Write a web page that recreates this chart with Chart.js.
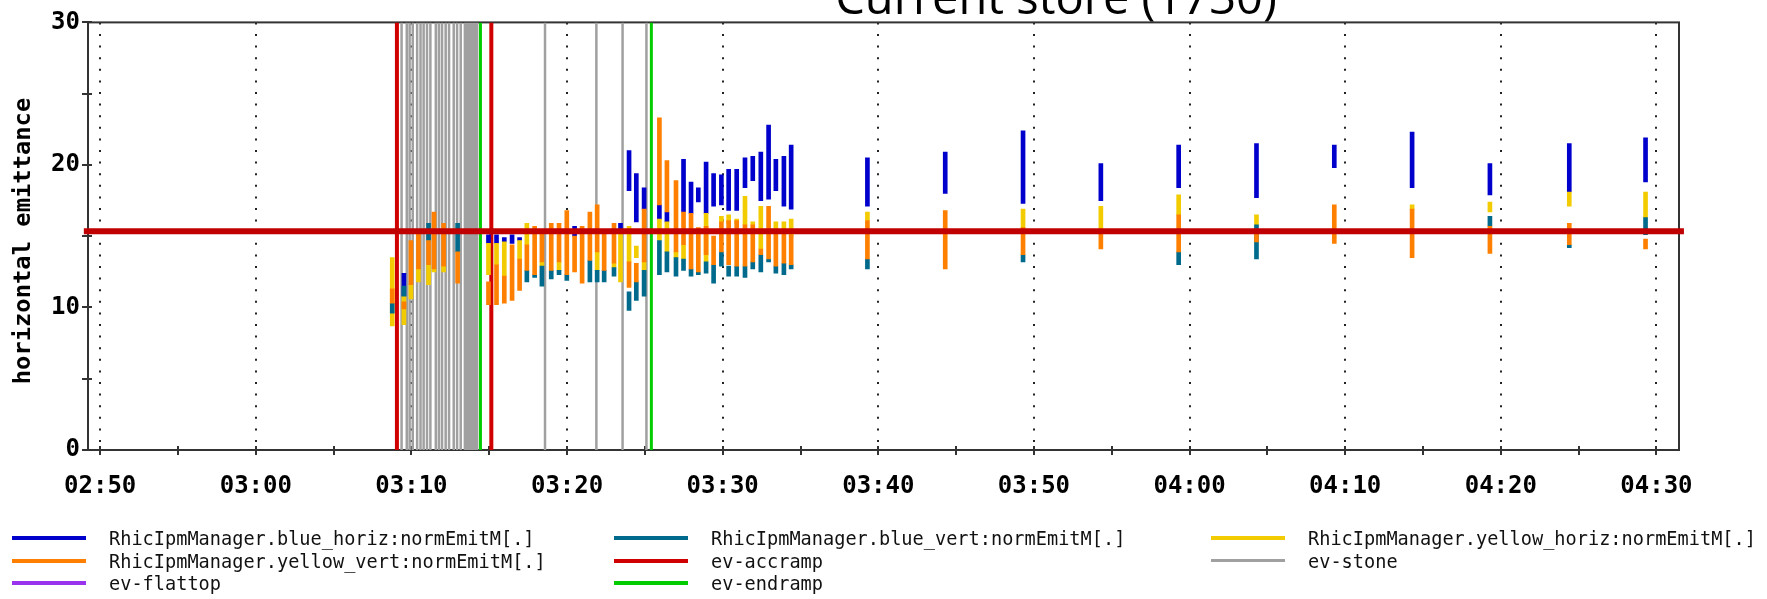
<!DOCTYPE html>
<html>
<head>
<meta charset="utf-8">
<title>horizontal emittance</title>
<script src="https://cdn.jsdelivr.net/npm/chart.js@4.4.0/dist/chart.umd.min.js"></script>
<style>
  body { margin: 0; background: #fff; }
  #wrap { position: relative; width: 1767px; height: 599px; overflow: hidden; }
  #emitChart { position: absolute; left: 0; top: 0; }
  .item { position: absolute; height: 22px; display: flex; align-items: center; white-space: nowrap; }
  .swatch { width: 74px; height: 4px; margin-right: 23px; }
  .label {
    font-family: "DejaVu Sans Mono", monospace; font-size: 20px; color: #111;
    transform: scaleX(0.93); transform-origin: left center;
  }
</style>
</head>
<body>
<div id="wrap">
  <canvas id="emitChart" width="1767" height="599"></canvas>
  <div id="legend"></div>
</div>
<script>
// IPM samples (hh:mm:ss); each series holds a [min, max] range or null
const sampleTimes = [
  '03:08:46', '03:09:31', '03:09:58', '03:10:27', '03:11:06', '03:11:27', '03:12:04', '03:12:58',
  '03:14:57', '03:15:28', '03:15:58', '03:16:28', '03:16:57', '03:17:25', '03:17:55', '03:18:23',
  '03:18:59', '03:19:29', '03:19:59', '03:20:29', '03:20:58', '03:21:28', '03:21:56', '03:22:23',
  '03:23:01', '03:23:26', '03:23:59', '03:24:27', '03:24:57', '03:25:56', '03:26:25', '03:27:00',
  '03:27:29', '03:27:58', '03:28:26', '03:28:56', '03:29:25', '03:29:55', '03:30:23', '03:30:54',
  '03:31:26', '03:31:56', '03:32:27', '03:32:57', '03:33:25', '03:33:56', '03:34:24',
  '03:39:18', '03:44:18', '03:49:18', '03:54:18', '03:59:18', '04:04:18', '04:09:18', '04:14:18',
  '04:19:18', '04:24:24', '04:29:18'
];

const blueHoriz = [
  null, [10.8, 12.4], null, null, null, null, null, null,
  [14.5, 15.1], [14.5, 15.1], [14.6, 14.9], [14.5, 15.1], [14.7, 14.9], null, null, null,
  null, null, null, [15.0, 15.7], null, null, null, null,
  null, [15.5, 15.9], [18.2, 21.0], [16.0, 19.4], [16.9, 18.4], [16.2, 17.2], [16.0, 16.7], null,
  [16.7, 20.4], [16.6, 18.8], [17.4, 18.4], [16.6, 20.2], [17.1, 19.4], [17.2, 19.3], [16.8, 19.7], [16.8, 19.7],
  [18.4, 20.5], [18.9, 20.6], [17.5, 20.9], [17.6, 22.8], [18.2, 20.4], [17.1, 20.6], [16.9, 21.4],
  [17.1, 20.5], [18.0, 20.9], [17.3, 22.4], [17.5, 20.1], [18.4, 21.4], [17.7, 21.5], [19.8, 21.4], [18.4, 22.3],
  [17.9, 20.1], [18.1, 21.5], [18.8, 21.9]
];

const blueVert = [
  [9.6, 10.3], [10.8, 11.5], null, null, [14.7, 15.9], null, null, [13.9, 15.9],
  null, null, null, null, null, [11.8, 12.6], [12.1, 12.3], [11.5, 12.9],
  [12.0, 12.6], [12.3, 12.6], [11.9, 12.3], null, null, [11.8, 13.3], [11.8, 12.6], [11.8, 12.6],
  [12.2, 12.8], null, [9.8, 11.1], [10.5, 11.8], [10.8, 12.6], [12.3, 14.7], [12.5, 13.9], [12.2, 13.5],
  [12.6, 13.4], [12.2, 12.7], [12.3, 12.5], [12.4, 13.2], [11.7, 13.0], [12.9, 13.9], [12.2, 12.9], [12.2, 12.9],
  [12.1, 12.9], [12.7, 13.2], [12.5, 13.7], [13.2, 13.4], [12.4, 12.9], [12.3, 13.1], [12.7, 13.0],
  [12.7, 13.4], null, [13.2, 13.7], null, [13.0, 13.9], [13.4, 15.8], null, null,
  [15.7, 16.4], [14.2, 14.4], [15.1, 16.3]
];

const yellowHoriz = [
  [8.7, 13.5], [8.8, 10.8], [10.6, 11.6], [11.8, 12.7], [11.6, 13.0], [12.5, 12.7], [12.5, 12.9], null,
  [12.3, 14.5], [13.0, 14.5], [12.2, 14.6], null, [13.4, 14.7], [14.4, 15.9], null, [12.9, 13.2],
  null, [12.6, 13.2], null, null, null, null, [12.6, 13.9], null,
  [12.8, 13.1], [11.8, 15.2], [13.2, 15.7], [13.5, 14.3], [12.6, 13.2], [14.7, 16.2], [13.9, 16.0], [13.5, 13.9],
  [13.4, 14.4], null, null, [13.2, 16.6], null, [16.0, 16.4], [15.9, 16.5], [15.9, 16.2],
  [15.8, 17.8], [15.8, 16.0], [14.1, 17.1], null, [15.5, 16.0], [15.5, 16.0], [15.0, 16.2],
  [16.1, 16.7], null, [15.6, 16.9], [15.5, 17.1], [16.5, 17.9], [15.8, 16.5], null, [16.9, 17.2],
  [16.7, 17.4], [17.1, 18.1], [16.3, 18.1]
];

const yellowVert = [
  [10.3, 11.3], [9.9, 10.4], [11.6, 14.7], [12.7, 15.2], [13.0, 14.7], [12.7, 16.7], [12.9, 15.9], [11.7, 13.9],
  [10.2, 11.8], [10.2, 13.0], [10.3, 12.2], [10.5, 14.4], [11.2, 13.4], [12.6, 14.4], [12.3, 15.7], [13.2, 15.3],
  [12.6, 15.9], [13.2, 15.9], [12.3, 16.8], [12.5, 15.0], [11.7, 15.7], [13.3, 16.7], [13.9, 17.2], [12.6, 15.4],
  [13.1, 15.9], null, [11.4, 13.2], [11.8, 13.1], [13.2, 16.9], [17.2, 23.3], [16.7, 20.3], [13.9, 18.9],
  [14.4, 16.7], [12.7, 16.6], [12.5, 15.6], [13.7, 15.7], [13.0, 15.0], [13.9, 16.0], [13.0, 16.1], [12.9, 16.1],
  [12.9, 15.8], [13.2, 15.8], [13.7, 14.1], [13.4, 17.1], [12.9, 15.5], [13.1, 15.5], [13.0, 15.1],
  [13.4, 16.1], [12.7, 16.8], [13.7, 15.6], [14.1, 15.5], [13.9, 16.5], [14.6, 15.5], [14.5, 17.2], [13.5, 16.9],
  [13.8, 15.7], [14.4, 15.9], [14.1, 14.8]
];

// machine events
const accrampTimes = ['03:09:04', '03:15:08'];
const endrampTimes = ['03:14:26', '03:25:25'];
const flattopTimes = [];
const stoneTimes = [
  '03:09:22', '03:09:42', '03:09:53', '03:10:05', '03:10:22', '03:10:35', '03:10:47', '03:11:00',
  '03:11:13', '03:11:34', '03:11:46', '03:11:58', '03:12:12', '03:12:25', '03:12:43', '03:12:56',
  '03:13:10', '03:13:26', '03:13:33', '03:13:40', '03:13:46', '03:13:53', '03:14:00', '03:14:06', '03:14:13',
  '03:18:35', '03:21:53', '03:23:34', '03:25:06'
];

const referenceLevel = 15.35;
const xTickLabels = ['02:50', '03:00', '03:10', '03:20', '03:30', '03:40', '03:50',
                     '04:00', '04:10', '04:20', '04:30'];
const yTicks = [0, 10, 20, 30];
const xRange = ['02:49:13', '04:31:27'];
const yRange = [0, 30];

const toMin = s => {
  const [h, m, sec] = s.split(':').map(Number);
  return h * 60 + m + (sec || 0) / 60;
};
const fmt = v => {
  const h = Math.floor(v / 60), m = Math.round(v - h * 60);
  return String(h).padStart(2, '0') + ':' + String(m).padStart(2, '0');
};

const rangeData = ranges => sampleTimes
  .map((t, i) => ranges[i] ? { x: toMin(t), y: ranges[i] } : null)
  .filter(Boolean);

// vertical event markers: one dataset per event type, split by null gaps
const markerData = times => {
  const out = [];
  times.forEach(t => {
    const x = toMin(t);
    out.push({ x, y: yRange[0] }, { x, y: yRange[1] }, { x, y: null });
  });
  return out;
};

const series = [
  { name: 'RhicIpmManager.blue_horiz:normEmitM[.]', color: '#0000cc', data: blueHoriz, order: 4 },
  { name: 'RhicIpmManager.blue_vert:normEmitM[.]', color: '#006a8c', data: blueVert, order: 2 },
  { name: 'RhicIpmManager.yellow_horiz:normEmitM[.]', color: '#f2cc00', data: yellowHoriz, order: 3 },
  { name: 'RhicIpmManager.yellow_vert:normEmitM[.]', color: '#ff8000', data: yellowVert, order: 1 }
];
const events = [
  { name: 'ev-accramp', color: '#d00000', width: 4, times: accrampTimes },
  { name: 'ev-stone', color: '#a0a0a0', width: 2.5, times: stoneTimes },
  { name: 'ev-flattop', color: '#9933ee', width: 3, times: flattopTimes },
  { name: 'ev-endramp', color: '#00cc00', width: 3, times: endrampTimes }
];

const datasets = [];
series.forEach(s => datasets.push({
  type: 'bar', label: s.name, data: rangeData(s.data),
  backgroundColor: s.color, barThickness: 4, borderWidth: 0,
  borderSkipped: false, grouped: false, order: s.order
}));
events.forEach(e => datasets.push({
  type: 'line', label: e.name, data: markerData(e.times),
  borderColor: e.color, borderWidth: e.width, pointRadius: 0,
  spanGaps: false, order: e.name === 'ev-stone' ? 6 : 5
}));
datasets.push({
  type: 'line', label: 'reference',
  data: [{ x: toMin('02:48:57'), y: referenceLevel }, { x: toMin('04:31:46'), y: referenceLevel }],
  borderColor: '#c00000', borderWidth: 6, pointRadius: 0, order: 0,
  clip: { left: 8, right: 8, top: 0, bottom: 0 }
});

// box frame, crossing tick marks, axis title and the cut-off store caption
const framePlugin = {
  id: 'frame',
  beforeDatasetsDraw(chart) {
    const { ctx, chartArea: a, scales: { x, y } } = chart;
    ctx.save();
    ctx.strokeStyle = '#333';
    ctx.lineWidth = 2;
    ctx.strokeRect(a.left, a.top, a.right - a.left, a.bottom - a.top);
    ctx.beginPath();
    for (let v = toMin(xTickLabels[0]); v <= toMin(xTickLabels[xTickLabels.length - 1]) + 0.01; v += 5) {
      const px = Math.round(x.getPixelForValue(v));
      ctx.moveTo(px, a.bottom - 4);
      ctx.lineTo(px, a.bottom + 5);
    }
    for (let v = yRange[0]; v <= yRange[1]; v += 5) {
      const py = Math.round(y.getPixelForValue(v));
      ctx.moveTo(a.left - 6, py);
      ctx.lineTo(a.left + 4, py);
    }
    ctx.stroke();
    ctx.restore();
  },
  afterDraw(chart) {
    const { ctx } = chart;
    ctx.save();
    ctx.fillStyle = '#000';
    ctx.font = '47px "Open Sans"';
    ctx.textAlign = 'center';
    ctx.textBaseline = 'alphabetic';
    ctx.fillText('Current store (1730)', 1056, 14);

    ctx.translate(24, 241);
    ctx.rotate(-Math.PI / 2);
    ctx.font = 'bold 23.8px "DejaVu Sans Mono"';
    ctx.textBaseline = 'middle';
    ctx.fillText('horizontal emittance', 0, 0);
    ctx.restore();
  }
};

new Chart(document.getElementById('emitChart'), {
  type: 'bar',
  data: { datasets },
  options: {
    responsive: false,
    animation: false,
    events: [],
    layout: { padding: { top: 18, right: 88, left: 0, bottom: 0 } },
    plugins: { legend: { display: false }, tooltip: { enabled: false } },
    scales: {
      x: {
        type: 'linear',
        min: toMin(xRange[0]),
        max: toMin(xRange[1]),
        offset: false,
        afterBuildTicks: s => { s.ticks = xTickLabels.map(l => ({ value: toMin(l) })); },
        afterFit: s => { s.height = 149; },
        grid: { offset: false, drawTicks: false, color: '#222', lineWidth: 2 },
        border: { display: false, dash: [2, 9.6] },
        ticks: {
          padding: 22, color: '#000', maxRotation: 0, autoSkip: false,
          font: { family: 'DejaVu Sans Mono', weight: 'bold', size: 24 },
          callback: v => fmt(v)
        }
      },
      y: {
        type: 'linear',
        min: yRange[0],
        max: yRange[1],
        afterBuildTicks: s => { s.ticks = yTicks.map(v => ({ value: v })); },
        afterFit: s => { s.width = 88; },
        grid: { display: false, drawTicks: false },
        border: { display: false },
        ticks: {
          padding: 8, color: '#000',
          font: { family: 'DejaVu Sans Mono', weight: 'bold', size: 24 }
        }
      }
    }
  },
  plugins: [framePlugin]
});

// legend: three columns below the plot
const legendEntries = [series[0], series[1], series[2], series[3], events[0], events[1], events[2], events[3]];
const colLeft = [12, 614, 1211];
const rowMid = [538, 560.5, 583];
const legend = document.getElementById('legend');
legendEntries.forEach((e, i) => {
  const item = document.createElement('div');
  item.className = 'item';
  item.style.left = colLeft[i % 3] + 'px';
  item.style.top = (rowMid[Math.floor(i / 3)] - 11) + 'px';
  const sw = document.createElement('span');
  sw.className = 'swatch';
  sw.style.background = e.color;
  if (e.name === 'ev-stone') { sw.style.height = '3px'; }
  const lab = document.createElement('span');
  lab.className = 'label';
  lab.textContent = e.name;
  item.appendChild(sw);
  item.appendChild(lab);
  legend.appendChild(item);
});
</script>
</body>
</html>
